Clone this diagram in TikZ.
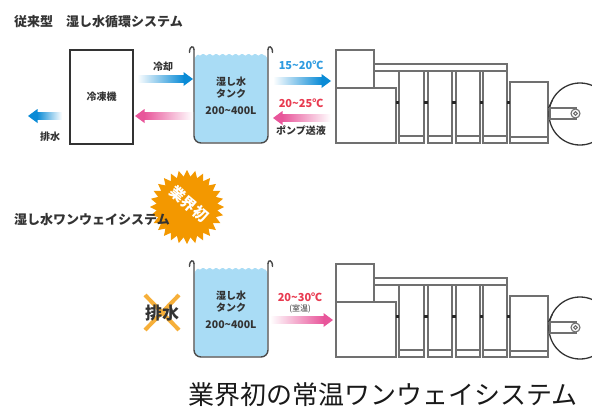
\documentclass[tikz,border=0pt]{standalone}
\usepackage{fontspec}
\usetikzlibrary{calc,decorations.pathmorphing}
\newfontfamily\jp{Noto Sans CJK JP}
\newcommand\fsz[1]{\fontsize{#1}{#1}\selectfont}

\definecolor{txtgray}{HTML}{333333}
\definecolor{arrblue}{HTML}{0A8BD6}
\definecolor{arrpink}{HTML}{E8559A}
\definecolor{tmpblue}{HTML}{2E9BE0}
\definecolor{tmpred}{HTML}{E83A50}
\definecolor{water}{HTML}{A9DCF5}
\definecolor{tankline}{HTML}{4A4A4A}
\definecolor{machline}{HTML}{707070}
\definecolor{burst}{HTML}{F39800}
\definecolor{crossor}{HTML}{F5A623}

% gradient arrows: tail coordinate, tip coordinate, colour
\newcommand\arrowR[3]{%
  \shade[left color=white,right color=#3]
    ($(#1)+(0,-3.6)$) rectangle ($(#2)+(-9,3.6)$);
  \fill[#3] ($(#2)+(-9.5,-7)$) -- (#2) -- ($(#2)+(-9.5,7)$) -- cycle;}
\newcommand\arrowL[3]{%
  \shade[right color=white,left color=#3]
    ($(#2)+(9,-3.6)$) rectangle ($(#1)+(0,3.6)$);
  \fill[#3] ($(#2)+(9.5,-7)$) -- (#2) -- ($(#2)+(9.5,7)$) -- cycle;}

\tikzset{
  every node/.style={inner sep=0pt, text=txtgray},
  lbl/.style={font=\jp\bfseries\fsz{10}},
  heading/.style={font=\jp\bfseries\fsz{13}, anchor=west},
  mline/.style={draw=machline, line width=1.1pt},
  rollline/.style={draw=black!80, line width=1.3pt},
  press/.pic={
    \draw[mline] (0,0) rectangle (38,38);
    \draw[mline] (0,38) rectangle (60,93);
    \draw[mline] (38,14) rectangle (171,21);
    \foreach \a/\b in {63/88,92/116,120/144,147/171} {
      \draw[mline, fill=white] (\a,21) rectangle (\b,93);
      \draw[mline] (\a,86) -- (\b,86);
    }
    \draw[mline] (174,32) rectangle (212,93);
    \draw[mline] (174,87) -- (212,87);
    \foreach \x in {61.5,90,118,145.5,172.5}
      \fill[black!85] (\x-1.6,50.5) rectangle (\x+1.6,53.5);
    \draw[rollline] (244,64) circle[radius=31];
    \draw[rollline] (212.5,58) -- (216.5,50);
    \draw[mline, fill=white] (214,58) rectangle (240,69);
    \draw[mline, fill=white] (239.5,63.5) circle[radius=4.5];
    \draw[mline] (239.5,63.5) circle[radius=1.8];
  },
  tank/.pic={
    \fill[water, rounded corners=6pt] (0.6,7) rectangle (73.4,95.4);
    \draw[white, line width=1.6pt, decorate,
          decoration={snake, segment length=6.5pt, amplitude=1pt}]
      (0.6,6.6) -- (73.4,6.6);
    \draw[tankline, line width=1.4pt, rounded corners=7pt]
      (0,2) -- (0,96) -- (74,96) -- (74,2);
    \draw[tankline, line width=1.4pt, line cap=round]
      (-4.5,5.5) .. controls (-4.5,-1.5) and (0,-1.5) .. (0,2.5);
    \draw[tankline, line width=1.4pt, line cap=round]
      (74,2.5) .. controls (74,-1.5) and (78.5,-1.5) .. (78.5,5.5);
    \node[lbl] (-l1) at (37,35) {湿し水};
    \node[lbl] (-l2) at (37,47) {タンク};
    \node[lbl, font=\jp\bfseries\fsz{10.5}] (-l3) at (37,64) {200\textasciitilde400L};
  }
}

\begin{document}
\begin{tikzpicture}[x=1pt,y=-1pt]
\useasboundingbox (0,0) rectangle (592,407);
\clip (0,0) rectangle (592,407);

% ---------- conventional circulation system ----------
\node[heading] (title1) at (14,22) {従来型　湿し水循環システム};

\node[draw=txtgray, line width=1.4pt, minimum width=63pt, minimum height=94pt]
  (chiller) at (101.5,97) {};
\node[lbl] (chillerlbl) at (chiller) {冷凍機};

\pic (tankA) at (194,47) {tank};
\pic at (336,50) {press};

\coordinate (coolTail) at (137,79);  \coordinate (coolTip) at (193,79);
\coordinate (retTail)  at (193,116); \coordinate (retTip)  at (135,116);
\coordinate (drnTail)  at (62,116);  \coordinate (drnTip)  at (28,116);
\coordinate (supTail)  at (273,81);  \coordinate (supTip)  at (331,81);
\coordinate (backTail) at (331,118); \coordinate (backTip) at (273,118);

\arrowR{coolTail}{coolTip}{arrblue}
\arrowL{retTail}{retTip}{arrpink}
\arrowL{drnTail}{drnTip}{arrblue}
\arrowR{supTail}{supTip}{arrblue}
\arrowL{backTail}{backTip}{arrpink}

\node[lbl] (coolLbl) at (163,67) {冷却};
\node[lbl] (drnLbl) at (50,137) {排水};
\node[lbl, text=tmpblue, font=\jp\bfseries\fsz{11}] (supLbl) at (301,65) {15\textasciitilde20℃};
\node[lbl, text=tmpred, font=\jp\bfseries\fsz{11}] (backLbl) at (301,103) {20\textasciitilde25℃};
\node[lbl] (pumpLbl) at (301,131) {ポンプ送液};

% ---------- one-way system ----------
\begin{scope}[shift={(187,207)}]
  \fill[burst] (0:37) \foreach \i in {1,...,28} { -- ({(\i-0.5)*360/28}:30.5) -- ({\i*360/28}:37) } -- cycle;
\end{scope}
\node[font=\jp\bfseries\fsz{15}, text=white, rotate=-40] (first) at (189,204) {業界初};

\node[heading] (title2) at (14,220) {湿し水ワンウェイシステム};

\draw[crossor, line width=4pt, opacity=0.9] (145,295) -- (179,330) (179,295) -- (145,330);
\node[font=\jp\bfseries\fsz{17}] (noDrain) at (162,313) {排水};

\pic (tankB) at (194,261) {tank};
\pic at (336,264) {press};

\coordinate (feedTail) at (270,320); \coordinate (feedTip) at (333,320);
\arrowR{feedTail}{feedTip}{arrpink}
\node[lbl, text=tmpred, font=\jp\bfseries\fsz{11}] (feedLbl) at (300,297) {20\textasciitilde30℃};
\node[font=\jp\fsz{8}] (roomLbl) at (300,309) {(室温)};

\node[font=\jp\fsz{26}, text=black!90] (caption) at (383,395) {業界初の常温ワンウェイシステム};
\end{tikzpicture}
\end{document}
